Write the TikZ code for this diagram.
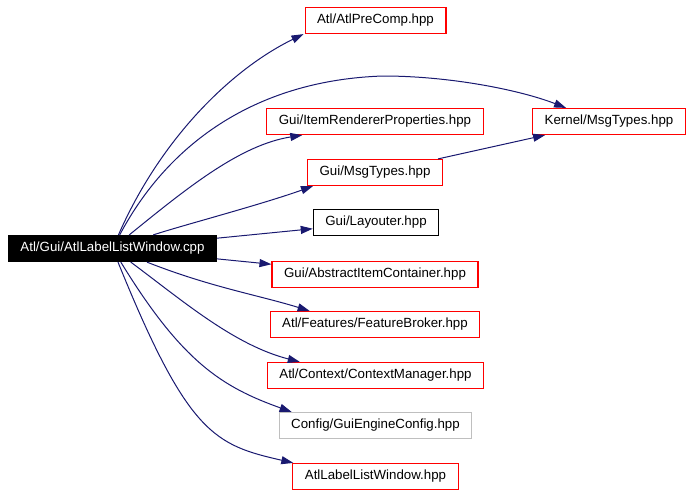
\documentclass[tikz,border=0pt]{standalone}
\usepackage{fontspec}
\setmainfont{Liberation Sans}
\usetikzlibrary{arrows.meta}
\definecolor{edgeblue}{HTML}{191970}
\definecolor{missgray}{HTML}{BFBFBF}

\begin{document}
\begin{tikzpicture}[
  x=1pt, y=-1pt,
  header/.style={rectangle, draw=red, line width=1.2pt, fill=white, minimum height=26pt, inner xsep=12pt, inner ysep=0pt, align=center, font=\fontsize{13.3}{15}\selectfont},
  source/.style={header, draw=black, fill=black, text=white},
  plain/.style={header, draw=black},
  missing/.style={header, draw=missgray},
  arrow/.style={-{Triangle[length=12pt, width=8pt]}, draw=edgeblue, line width=1pt}
]
  \useasboundingbox (0,0) rectangle (691,496);

  \node[source] (root) at (112.5,248.5) {Atl/Gui/AtlLabelListWindow.cpp};

  \node[header] (precomp) at (375.5,20.5) {Atl/AtlPreComp.hpp};
  \node[header] (kernel) at (609,121.5) {Kernel/MsgTypes.hpp};
  \node[header] (itemrend) at (375,121.5) {Gui/ItemRendererProperties.hpp};
  \node[header] (guimsg) at (375,172.5) {Gui/MsgTypes.hpp};
  \node[plain] (layouter) at (376,222.5) {Gui/Layouter.hpp};
  \node[header] (container) at (375,274.5) {Gui/AbstractItemContainer.hpp};
  \node[header] (broker) at (375,324.5) {Atl/Features/FeatureBroker.hpp};
  \node[header] (context) at (375.5,375.5) {Atl/Context/ContextManager.hpp};
  \node[missing] (config) at (375.5,425.5) {Config/GuiEngineConfig.hpp};
  \node[header] (labelhpp) at (375.5,476.5) {AtlLabelListWindow.hpp};

  \draw[arrow] (root) .. controls (160,140) and (230,70) .. ([xshift=-1pt]precomp.south west);
  \draw[arrow] (root) .. controls (170,140) and (260,80) .. (383,76)
    .. controls (450,76) and (520,90) .. ([xshift=34pt]kernel.north west);
  \draw[arrow] (root) .. controls (187,188) and (240,145) .. ([xshift=36pt]itemrend.south west);
  \draw[arrow] (root) .. controls (180,226) and (260,205) .. ([xshift=6pt]guimsg.south west);
  \draw[arrow] ([xshift=-5pt]guimsg.north east) -- ([xshift=13pt]kernel.south west);
  \draw[arrow] (root) -- (layouter);
  \draw[arrow] (root) -- (container);
  \draw[arrow] (root) .. controls (210,287) and (258,295) .. ([xshift=40pt]broker.north west);
  \draw[arrow] (root) .. controls (183,301) and (234,345) .. ([xshift=33pt]context.north west);
  \draw[arrow] (root) .. controls (182,362) and (222,387) .. ([xshift=13pt]config.north west);
  \draw[arrow] (root) .. controls (188,435) and (215,445) .. ([xshift=1pt]labelhpp.north west);
\end{tikzpicture}
\end{document}
